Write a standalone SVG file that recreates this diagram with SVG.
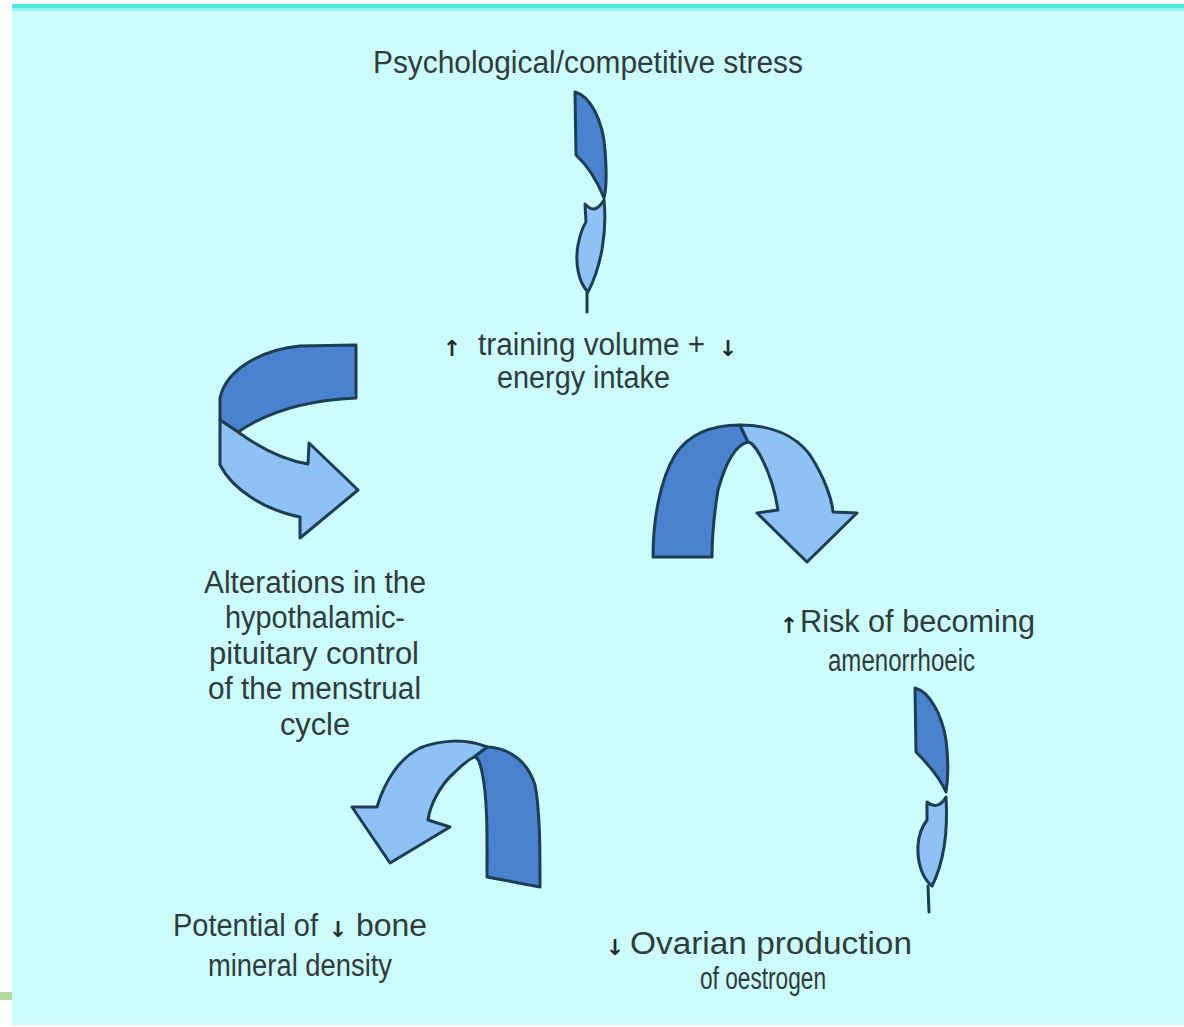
<svg xmlns="http://www.w3.org/2000/svg" width="1184" height="1027" viewBox="0 0 1184 1027">
<style>
.t{font-family:"Liberation Sans",Arial,sans-serif;font-size:31px;fill:#2f3b3d}
.a{font-family:"DejaVu Sans",sans-serif;font-size:22px;font-weight:bold;fill:#1f2b2d;text-anchor:middle}
.dk{fill:#4a82cf;stroke:#1d3d55;stroke-width:3;stroke-linejoin:round}
.lt{fill:#8fc2f4;stroke:#1d3d55;stroke-width:3;stroke-linejoin:round}
.ln{fill:none;stroke:#1d3d55;stroke-width:3;stroke-linecap:round}
</style>
<rect x="0" y="0" width="1184" height="1027" fill="#ffffff"/>
<rect x="12" y="4" width="1172" height="1021" fill="#ccfcfc"/>
<rect x="12" y="4" width="1172" height="4" fill="#4ee8e0"/>
<rect x="12" y="8" width="1172" height="3" fill="#8ef6f4"/>
<rect x="0" y="992" width="12" height="8" fill="#b0dca0"/>

<g id="connectors">
  <!-- top small twisted arrow -->
  <g id="arrow-top">
    <path class="dk" d="M575,92 C590,96 603,120 605,150 C607,175 606,190 604,198 C598,183 590,168 576,155 Z"/>
    <path class="lt" d="M604,200 C607,230 602,265 588,292 C578,282 575,262 578,245 C580,235 584,225 586,222 L585,204 C592,212 598,210 604,200 Z"/>
    <path class="ln" d="M587,292 L587,312"/>
  </g>
  <!-- left big arrow -->
  <g id="arrow-left">
    <path class="dk" d="M356,345 L356,398 C310,400 270,410 238,432 L220,420 L220,398 C226,370 260,350 300,346 Z"/>
    <path class="lt" d="M220,420 L238,432 C260,448 285,460 308,464 L309,443 L358,490 L300,538 L300,517 C265,510 233,490 220,465 Z"/>
  </g>
  <!-- right big arrow -->
  <g id="arrow-right">
    <path class="dk" d="M653,557 C653,520 660,480 675,455 C690,432 715,425 740,425 L748,442 C735,445 725,465 718,490 C714,515 712,540 712,557 Z"/>
    <path class="lt" d="M740,425 C770,425 795,435 810,455 C825,478 832,500 833,512 L857,513 L807,562 L757,513 L778,510 C775,490 768,470 760,455 C755,446 750,442 748,442 Z"/>
  </g>
  <!-- bottom-left big arrow -->
  <g id="arrow-bottom-left">
    <path class="dk" d="M487,747 C510,748 528,762 535,785 C540,810 540,850 540,887 L487,877 C487,840 488,800 482,772 C480,762 478,757 474,757 Z"/>
    <path class="lt" d="M487,747 C465,738 440,740 420,748 C400,758 385,780 377,807 L352,807 L390,863 L450,827 L428,820 C430,805 440,785 455,772 C462,765 468,760 474,757 Z"/>
  </g>
  <!-- right small twisted arrow -->
  <g id="arrow-right-small">
    <path class="dk" d="M915,688 C930,692 942,715 946,740 C949,765 948,780 946,792 C940,778 930,766 916,752 Z"/>
    <path class="lt" d="M946,797 C948,830 945,860 932,886 C922,878 917,862 918,845 C919,832 924,824 927,820 L927,802 C934,808 941,806 946,797 Z"/>
    <path class="ln" d="M928,886 L929,912"/>
  </g>
</g>

<g id="node-stress">
  <text class="t" x="373" y="73" textLength="430" lengthAdjust="spacingAndGlyphs">Psychological/competitive stress</text>
</g>
<g id="node-training">
  <text class="a" x="452" y="356">↑</text>
  <text class="t" x="478" y="355" textLength="227" lengthAdjust="spacingAndGlyphs">training volume +</text>
  <text class="a" x="728" y="356">↓</text>
  <text class="t" x="497" y="388" textLength="173" lengthAdjust="spacingAndGlyphs">energy intake</text>
</g>
<g id="node-alterations">
  <text class="t" x="204" y="593" textLength="222" lengthAdjust="spacingAndGlyphs">Alterations in the</text>
  <text class="t" x="225" y="628" textLength="180" lengthAdjust="spacingAndGlyphs">hypothalamic-</text>
  <text class="t" x="209" y="664" textLength="210" lengthAdjust="spacingAndGlyphs">pituitary control</text>
  <text class="t" x="208" y="699" textLength="213" lengthAdjust="spacingAndGlyphs">of the menstrual</text>
  <text class="t" x="280" y="735" textLength="70" lengthAdjust="spacingAndGlyphs">cycle</text>
</g>
<g id="node-risk">
  <text class="a" x="789" y="633">↑</text>
  <text class="t" x="800" y="632" textLength="235" lengthAdjust="spacingAndGlyphs">Risk of becoming</text>
  <text class="t" x="828" y="671" textLength="147" lengthAdjust="spacingAndGlyphs">amenorrhoeic</text>
</g>
<g id="node-ovarian">
  <text class="a" x="615" y="955">↓</text>
  <text class="t" x="630" y="954" textLength="282" lengthAdjust="spacingAndGlyphs">Ovarian production</text>
  <text class="t" x="700" y="989" textLength="126" lengthAdjust="spacingAndGlyphs">of oestrogen</text>
</g>
<g id="node-bone">
  <text class="t" x="173" y="936" textLength="145" lengthAdjust="spacingAndGlyphs">Potential of</text>
  <text class="a" x="338" y="937">↓</text>
  <text class="t" x="356" y="936" textLength="71" lengthAdjust="spacingAndGlyphs">bone</text>
  <text class="t" x="208" y="976" textLength="184" lengthAdjust="spacingAndGlyphs">mineral density</text>
</g>
</svg>
